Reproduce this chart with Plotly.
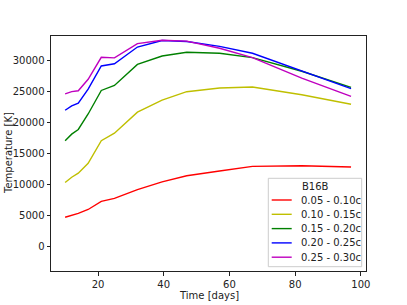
import plotly.graph_objects as go

time_days = [10, 12, 14, 17, 21, 25, 32, 39.5, 47, 57, 67, 82, 97]
labels = ["0.05 - 0.10c", "0.10 - 0.15c", "0.15 - 0.20c", "0.20 - 0.25c", "0.25 - 0.30c"]
t_005_010 = [4750, 5050, 5380, 6000, 7300, 7800, 9200, 10450, 11450, 12200, 12950, 13050, 12850]
t_010_015 = [10350, 11200, 11850, 13450, 17100, 18300, 21700, 23650, 25000, 25600, 25750, 24500, 22970]
t_015_020 = [17100, 18150, 18900, 21400, 25200, 26000, 29400, 30750, 31350, 31200, 30500, 28300, 25700]
t_020_025 = [22000, 22700, 23150, 25400, 29150, 29500, 32200, 33250, 33100, 32300, 31200, 28400, 25500]
t_025_030 = [24650, 25000, 25150, 27000, 30550, 30450, 32750, 33300, 33150, 32000, 30500, 27200, 24250]
x_ticks = [20, 40, 60, 80, 100]
y_ticks = [0, 5000, 10000, 15000, 20000, 25000, 30000]
colors = ["#ff0000", "#bfbf00", "#008000", "#0000ff", "#bf00bf"]
legend_title = "B16B"

series = [t_005_010, t_010_015, t_015_020, t_020_025, t_025_030]

# plot area in page pixels
PL, PR, PT, PB = 51, 366, 36, 271
def px_x(p):
    return (p - PL) / (PR - PL)
def px_y(p):
    return (PB - p) / (PB - PT)

fig = go.Figure()
for lab, vals, col in zip(labels, series, colors):
    fig.add_trace(go.Scatter(x=time_days, y=vals, mode="lines", name=lab,
                             line=dict(color=col, width=1.4), showlegend=False))

axis_common = dict(showline=True, linecolor="#222222", linewidth=1, mirror=True,
                   ticks="outside", ticklen=3.5, tickwidth=1, tickcolor="#222222",
                   showgrid=False, zeroline=False, automargin=False,
                   tickfont=dict(family="DejaVu Sans", size=10, color="#222222"))

shapes = []
annotations = []
# legend box
shapes.append(dict(type="rect", xref="paper", yref="paper",
                   x0=px_x(268.3), x1=px_x(361.7), y0=px_y(266.7), y1=px_y(178.3),
                   line=dict(color="#cccccc", width=1), fillcolor="rgba(255,255,255,0.8)",
                   layer="above"))
annotations.append(dict(text=legend_title, xref="paper", yref="paper",
                        x=px_x(315), y=px_y(186), xanchor="center", yanchor="middle",
                        showarrow=False, font=dict(size=10, color="#222222")))
row_y = [200, 214.3, 228.6, 242.9, 257.2]
for lab, col, ry in zip(labels, colors, row_y):
    shapes.append(dict(type="line", xref="paper", yref="paper",
                       x0=px_x(271.7), x1=px_x(291.7), y0=px_y(ry), y1=px_y(ry),
                       line=dict(color=col, width=1.4), layer="above"))
    annotations.append(dict(text=lab, xref="paper", yref="paper",
                            x=px_x(298.5), y=px_y(ry), xanchor="left", yanchor="middle",
                            showarrow=False, font=dict(size=10, color="#222222")))
# axis titles
annotations.append(dict(text="Time [days]", xref="paper", yref="paper",
                        x=0.5, y=px_y(295), xanchor="center", yanchor="middle",
                        showarrow=False, font=dict(size=10, color="#222222")))
annotations.append(dict(text="Temperature [K]", xref="paper", yref="paper",
                        x=px_x(8.5), y=0.5, xanchor="center", yanchor="middle", textangle=-90,
                        showarrow=False, font=dict(size=10, color="#222222")))

fig.update_layout(
    width=407, height=305,
    margin=dict(l=PL, r=407 - PR, t=PT, b=305 - PB),
    plot_bgcolor="white", paper_bgcolor="white",
    font=dict(family="DejaVu Sans", size=10, color="#222222"),
    xaxis=dict(range=[5.7, 101.55], tickvals=x_ticks, ticktext=[str(v) for v in x_ticks],
               **axis_common),
    yaxis=dict(range=[-3920, 33980], tickvals=y_ticks, ticktext=[str(v) for v in y_ticks],
               **axis_common),
    shapes=shapes, annotations=annotations,
    showlegend=False,
)

fig.write_html("out.html", config={"displayModeBar": False},
               post_script="document.body.style.margin='0';document.body.style.overflow='hidden';")
